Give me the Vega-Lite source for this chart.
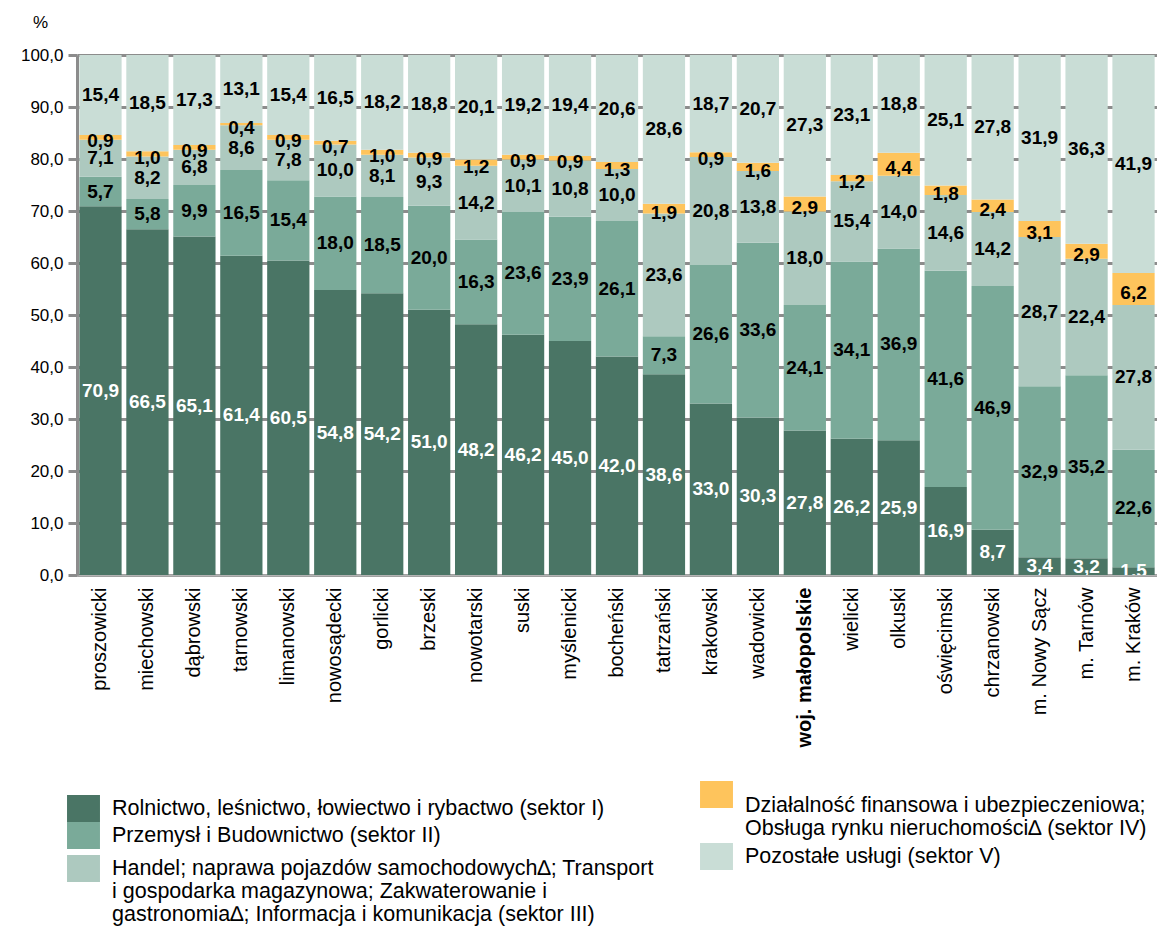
{
  "$schema": "https://vega.github.io/schema/vega-lite/v6.json",
  "width": 1080,
  "height": 520,
  "autosize": {"type": "none"},
  "padding": {"left": 77, "top": 55, "right": 0, "bottom": 353},
  "background": "white",
  "config": {
    "locale": {"number": {"decimal": ",", "thousands": " ", "grouping": [3], "currency": ["", " zł"]}},
    "font": "Liberation Sans",
    "view": {"stroke": null},
    "style": {"guide-label": {"lineHeight": 23}},
    "legend": {
      "orient": "none",
      "title": null,
      "symbolType": "M-1.22,-1H1.22V1H-1.22Z",
      "symbolSize": 729,
      "symbolStrokeWidth": 0,
      "symbolOpacity": 1,
      "labelFontSize": 21.5,
      "labelColor": "black",
      "labelLimit": 900,
      "labelOffset": 15
    }
  },
  "datasets": {
    "sectors": [
      {"sid": 1, "sector": "Rolnictwo, leśnictwo, łowiectwo i rybactwo (sektor I)"},
      {"sid": 2, "sector": "Przemysł i Budownictwo (sektor II)"},
      {"sid": 3, "sector": "Handel; naprawa pojazdów samochodowych∆; Transport\ni gospodarka magazynowa; Zakwaterowanie i\ngastronomia∆; Informacja i komunikacja (sektor III)"},
      {"sid": 4, "sector": "Działalność finansowa i ubezpieczeniowa;\nObsługa rynku nieruchomości∆ (sektor IV)"},
      {"sid": 5, "sector": "Pozostałe usługi (sektor V)"}
    ]
  },
  "data": {"values": [
    {"region": "proszowicki", "sid": 1, "value": 70.9}, {"region": "proszowicki", "sid": 2, "value": 5.7}, {"region": "proszowicki", "sid": 3, "value": 7.1}, {"region": "proszowicki", "sid": 4, "value": 0.9}, {"region": "proszowicki", "sid": 5, "value": 15.4},
    {"region": "miechowski", "sid": 1, "value": 66.5}, {"region": "miechowski", "sid": 2, "value": 5.8}, {"region": "miechowski", "sid": 3, "value": 8.2}, {"region": "miechowski", "sid": 4, "value": 1.0}, {"region": "miechowski", "sid": 5, "value": 18.5},
    {"region": "dąbrowski", "sid": 1, "value": 65.1}, {"region": "dąbrowski", "sid": 2, "value": 9.9}, {"region": "dąbrowski", "sid": 3, "value": 6.8}, {"region": "dąbrowski", "sid": 4, "value": 0.9}, {"region": "dąbrowski", "sid": 5, "value": 17.3},
    {"region": "tarnowski", "sid": 1, "value": 61.4}, {"region": "tarnowski", "sid": 2, "value": 16.5}, {"region": "tarnowski", "sid": 3, "value": 8.6}, {"region": "tarnowski", "sid": 4, "value": 0.4}, {"region": "tarnowski", "sid": 5, "value": 13.1},
    {"region": "limanowski", "sid": 1, "value": 60.5}, {"region": "limanowski", "sid": 2, "value": 15.4}, {"region": "limanowski", "sid": 3, "value": 7.8}, {"region": "limanowski", "sid": 4, "value": 0.9}, {"region": "limanowski", "sid": 5, "value": 15.4},
    {"region": "nowosądecki", "sid": 1, "value": 54.8}, {"region": "nowosądecki", "sid": 2, "value": 18.0}, {"region": "nowosądecki", "sid": 3, "value": 10.0}, {"region": "nowosądecki", "sid": 4, "value": 0.7}, {"region": "nowosądecki", "sid": 5, "value": 16.5},
    {"region": "gorlicki", "sid": 1, "value": 54.2}, {"region": "gorlicki", "sid": 2, "value": 18.5}, {"region": "gorlicki", "sid": 3, "value": 8.1}, {"region": "gorlicki", "sid": 4, "value": 1.0}, {"region": "gorlicki", "sid": 5, "value": 18.2},
    {"region": "brzeski", "sid": 1, "value": 51.0}, {"region": "brzeski", "sid": 2, "value": 20.0}, {"region": "brzeski", "sid": 3, "value": 9.3}, {"region": "brzeski", "sid": 4, "value": 0.9}, {"region": "brzeski", "sid": 5, "value": 18.8},
    {"region": "nowotarski", "sid": 1, "value": 48.2}, {"region": "nowotarski", "sid": 2, "value": 16.3}, {"region": "nowotarski", "sid": 3, "value": 14.2}, {"region": "nowotarski", "sid": 4, "value": 1.2}, {"region": "nowotarski", "sid": 5, "value": 20.1},
    {"region": "suski", "sid": 1, "value": 46.2}, {"region": "suski", "sid": 2, "value": 23.6}, {"region": "suski", "sid": 3, "value": 10.1}, {"region": "suski", "sid": 4, "value": 0.9}, {"region": "suski", "sid": 5, "value": 19.2},
    {"region": "myślenicki", "sid": 1, "value": 45.0}, {"region": "myślenicki", "sid": 2, "value": 23.9}, {"region": "myślenicki", "sid": 3, "value": 10.8}, {"region": "myślenicki", "sid": 4, "value": 0.9}, {"region": "myślenicki", "sid": 5, "value": 19.4},
    {"region": "bocheński", "sid": 1, "value": 42.0}, {"region": "bocheński", "sid": 2, "value": 26.1}, {"region": "bocheński", "sid": 3, "value": 10.0}, {"region": "bocheński", "sid": 4, "value": 1.3}, {"region": "bocheński", "sid": 5, "value": 20.6},
    {"region": "tatrzański", "sid": 1, "value": 38.6}, {"region": "tatrzański", "sid": 2, "value": 7.3}, {"region": "tatrzański", "sid": 3, "value": 23.6}, {"region": "tatrzański", "sid": 4, "value": 1.9}, {"region": "tatrzański", "sid": 5, "value": 28.6},
    {"region": "krakowski", "sid": 1, "value": 33.0}, {"region": "krakowski", "sid": 2, "value": 26.6}, {"region": "krakowski", "sid": 3, "value": 20.8}, {"region": "krakowski", "sid": 4, "value": 0.9}, {"region": "krakowski", "sid": 5, "value": 18.7},
    {"region": "wadowicki", "sid": 1, "value": 30.3}, {"region": "wadowicki", "sid": 2, "value": 33.6}, {"region": "wadowicki", "sid": 3, "value": 13.8}, {"region": "wadowicki", "sid": 4, "value": 1.6}, {"region": "wadowicki", "sid": 5, "value": 20.7},
    {"region": "woj. małopolskie", "sid": 1, "value": 27.8}, {"region": "woj. małopolskie", "sid": 2, "value": 24.1}, {"region": "woj. małopolskie", "sid": 3, "value": 18.0}, {"region": "woj. małopolskie", "sid": 4, "value": 2.9}, {"region": "woj. małopolskie", "sid": 5, "value": 27.3},
    {"region": "wielicki", "sid": 1, "value": 26.2}, {"region": "wielicki", "sid": 2, "value": 34.1}, {"region": "wielicki", "sid": 3, "value": 15.4}, {"region": "wielicki", "sid": 4, "value": 1.2}, {"region": "wielicki", "sid": 5, "value": 23.1},
    {"region": "olkuski", "sid": 1, "value": 25.9}, {"region": "olkuski", "sid": 2, "value": 36.9}, {"region": "olkuski", "sid": 3, "value": 14.0}, {"region": "olkuski", "sid": 4, "value": 4.4}, {"region": "olkuski", "sid": 5, "value": 18.8},
    {"region": "oświęcimski", "sid": 1, "value": 16.9}, {"region": "oświęcimski", "sid": 2, "value": 41.6}, {"region": "oświęcimski", "sid": 3, "value": 14.6}, {"region": "oświęcimski", "sid": 4, "value": 1.8}, {"region": "oświęcimski", "sid": 5, "value": 25.1},
    {"region": "chrzanowski", "sid": 1, "value": 8.7}, {"region": "chrzanowski", "sid": 2, "value": 46.9}, {"region": "chrzanowski", "sid": 3, "value": 14.2}, {"region": "chrzanowski", "sid": 4, "value": 2.4}, {"region": "chrzanowski", "sid": 5, "value": 27.8},
    {"region": "m. Nowy Sącz", "sid": 1, "value": 3.4}, {"region": "m. Nowy Sącz", "sid": 2, "value": 32.9}, {"region": "m. Nowy Sącz", "sid": 3, "value": 28.7}, {"region": "m. Nowy Sącz", "sid": 4, "value": 3.1}, {"region": "m. Nowy Sącz", "sid": 5, "value": 31.9},
    {"region": "m. Tarnów", "sid": 1, "value": 3.2}, {"region": "m. Tarnów", "sid": 2, "value": 35.2}, {"region": "m. Tarnów", "sid": 3, "value": 22.4}, {"region": "m. Tarnów", "sid": 4, "value": 2.9}, {"region": "m. Tarnów", "sid": 5, "value": 36.3},
    {"region": "m. Kraków", "sid": 1, "value": 1.5}, {"region": "m. Kraków", "sid": 2, "value": 22.6}, {"region": "m. Kraków", "sid": 3, "value": 27.8}, {"region": "m. Kraków", "sid": 4, "value": 6.2}, {"region": "m. Kraków", "sid": 5, "value": 41.9}
  ]},
  "transform": [
    {"lookup": "sid", "from": {"data": {"name": "sectors"}, "key": "sid", "fields": ["sector"]}},
    {"stack": "value", "groupby": ["region"], "sort": [{"field": "sid", "order": "ascending"}], "as": ["y0", "y1"]}
  ],
  "encoding": {
    "x": {
      "field": "region",
      "type": "nominal",
      "scale": {
        "domain": ["proszowicki", "miechowski", "dąbrowski", "tarnowski", "limanowski", "nowosądecki", "gorlicki", "brzeski", "nowotarski", "suski", "myślenicki", "bocheński", "tatrzański", "krakowski", "wadowicki", "woj. małopolskie", "wielicki", "olkuski", "oświęcimski", "chrzanowski", "m. Nowy Sącz", "m. Tarnów", "m. Kraków"],
        "paddingInner": 0.1,
        "paddingOuter": 0.05
      },
      "axis": {
        "title": null,
        "labelAngle": -90,
        "labelFontSize": 20,
        "labelColor": "black",
        "labelPadding": 12,
        "labelLimit": 400,
        "ticks": false,
        "grid": false,
        "domainColor": "#b4b4b4",
        "domainWidth": 2,
        "labelFontWeight": {"condition": {"test": "datum.value === 'woj. małopolskie'", "value": "bold"}, "value": "normal"}
      }
    }
  },
  "layer": [
    {
      "transform": [{"filter": "datum.sid === 1"}],
      "mark": {"type": "bar"},
      "encoding": {
        "y": {
          "field": "y1", "type": "quantitative", "title": "%",
          "scale": {"domain": [0, 100], "nice": false},
          "axis": {
            "values": [0, 10, 20, 30, 40, 50, 60, 70, 80, 90, 100],
            "format": ".1f",
            "labelFontSize": 17,
            "labelColor": "black",
            "labelPadding": 5,
            "tickSize": 9,
            "tickWidth": 3,
            "tickColor": "#8c8c8c",
            "domainColor": "#8c8c8c",
            "domainWidth": 3,
            "grid": true,
            "gridColor": "#8c8c8c",
            "gridWidth": 3,
            "title": "%",
            "titleAngle": 0,
            "titleX": -37,
            "titleY": -33,
            "titleAlign": "center",
            "titleBaseline": "middle",
            "titleFontWeight": "normal",
            "titleFontSize": 17,
            "titleColor": "black"
          }
        },
        "y2": {"field": "y0"},
        "color": {"field": "sector", "type": "nominal", "scale": {"range": ["#4a7565"]}, "legend": {"legendX": -7, "legendY": 740, "labelExpr": "split(datum.label, '\\n')"}}
      }
    },
    {
      "transform": [{"filter": "datum.sid === 2"}],
      "mark": {"type": "bar"},
      "encoding": {
        "y": {"field": "y1", "type": "quantitative", "title": "%"},
        "y2": {"field": "y0"},
        "color": {"field": "sector", "type": "nominal", "scale": {"range": ["#7aaa99"]}, "legend": {"legendX": -7, "legendY": 767, "labelExpr": "split(datum.label, '\\n')"}}
      }
    },
    {
      "transform": [{"filter": "datum.sid === 3"}],
      "mark": {"type": "bar"},
      "encoding": {
        "y": {"field": "y1", "type": "quantitative", "title": "%"},
        "y2": {"field": "y0"},
        "color": {"field": "sector", "type": "nominal", "scale": {"range": ["#adc9bf"]}, "legend": {"legendX": -7, "legendY": 800, "labelExpr": "split(datum.label, '\\n')"}}
      }
    },
    {
      "transform": [{"filter": "datum.sid === 4"}],
      "mark": {"type": "bar"},
      "encoding": {
        "y": {"field": "y1", "type": "quantitative", "title": "%"},
        "y2": {"field": "y0"},
        "color": {"field": "sector", "type": "nominal", "scale": {"range": ["#fec45c"]}, "legend": {"legendX": 626, "legendY": 726, "labelBaseline": "top", "labelExpr": "split(datum.label, '\\n')"}}
      }
    },
    {
      "transform": [{"filter": "datum.sid === 5"}],
      "mark": {"type": "bar"},
      "encoding": {
        "y": {"field": "y1", "type": "quantitative", "title": "%"},
        "y2": {"field": "y0"},
        "color": {"field": "sector", "type": "nominal", "scale": {"range": ["#c9ddd6"]}, "legend": {"legendX": 626, "legendY": 788, "labelExpr": "split(datum.label, '\\n')"}}
      }
    },
    {
      "transform": [
        {"fold": ["y0", "y1"], "as": ["edge", "pos"]},
        {"aggregate": [{"op": "mean", "field": "pos", "as": "mid"}], "groupby": ["region", "sid", "value"]},
        {"filter": "datum.sid !== 4"}
      ],
      "mark": {"type": "text", "fontSize": 19, "fontWeight": "bold", "align": "center", "baseline": "middle", "clip": true},
      "encoding": {
        "y": {"field": "mid", "type": "quantitative", "title": "%"},
        "text": {"field": "value", "type": "quantitative", "format": ".1f"},
        "color": {"condition": {"test": "datum.sid === 1", "value": "white"}, "value": "black"}
      }
    },
    {
      "transform": [
        {"fold": ["y0", "y1"], "as": ["edge", "pos"]},
        {"aggregate": [{"op": "mean", "field": "pos", "as": "mid"}], "groupby": ["region", "sid", "value"]},
        {"filter": "datum.sid === 4"}
      ],
      "mark": {"type": "text", "fontSize": 19, "fontWeight": "bold", "align": "center", "baseline": "middle", "dy": 4, "color": "black"},
      "encoding": {
        "y": {"field": "mid", "type": "quantitative", "title": "%"},
        "text": {"field": "value", "type": "quantitative", "format": ".1f"}
      }
    }
  ],
  "resolve": {"scale": {"color": "independent"}}
}
